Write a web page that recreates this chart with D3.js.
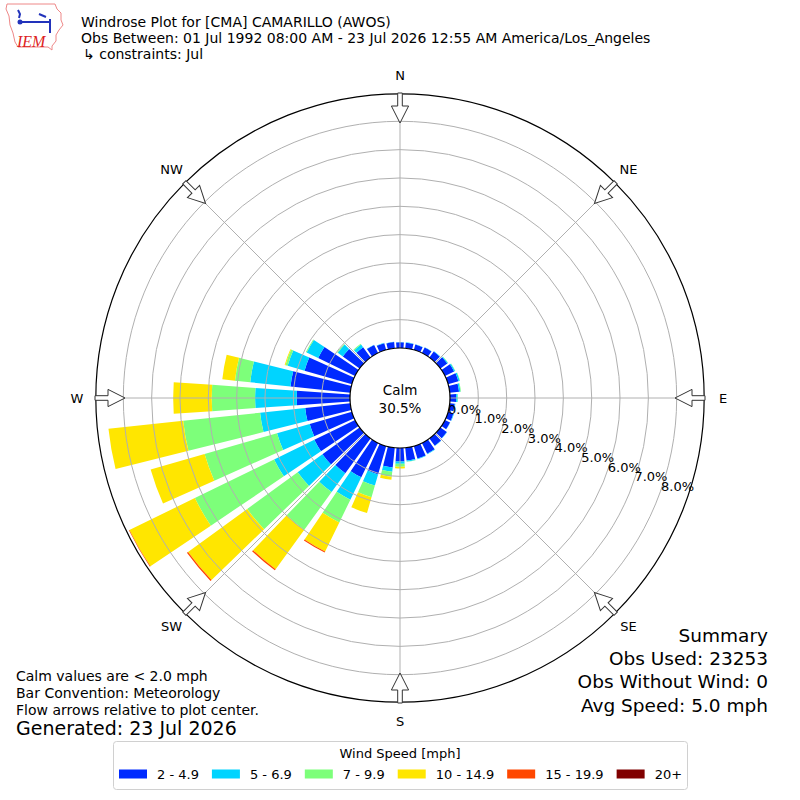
<!DOCTYPE html>
<html>
<head>
<meta charset="utf-8">
<script src="https://cdn.jsdelivr.net/npm/d3@7"></script>
<style>
  body { margin: 0; background: #fff; }
  svg { display: block; font-family: "DejaVu Sans", sans-serif; }
</style>
</head>
<body>
<svg id="windrose" width="800" height="800"></svg>
<script>
// direction bins (degrees, meteorological "from")
const bearings = [0, 10, 20, 30, 40, 50, 60, 70, 80, 90, 100, 110, 120, 130, 140, 150, 160, 170,
                  180, 190, 200, 210, 220, 230, 240, 250, 260, 270, 280, 290, 300, 310, 320, 330, 340, 350];

const speedBins = ["2 - 4.9", "5 - 6.9", "7 - 9.9", "10 - 14.9", "15 - 19.9", "20+"];

// frequency [%] for each speed bin by direction
const spd2 = [0.20, 0.20, 0.20, 0.22, 0.26, 0.30, 0.36, 0.38, 0.33, 0.22, 0.18, 0.20, 0.20, 0.28, 0.32, 0.42, 0.46, 0.45,
              0.48, 0.70, 1.04, 1.35, 1.52, 1.62, 1.60, 1.55, 1.60, 1.88, 2.12, 1.74, 1.45, 0.73, 0.45, 0.32, 0.25, 0.22];
const spd5 = [0.01, 0.01, 0.01, 0.01, 0.02, 0.03, 0.04, 0.05, 0.05, 0.05, 0.02, 0.02, 0.01, 0.01, 0.01, 0.02, 0.02, 0.04,
              0.08, 0.15, 0.41, 0.88, 0.82, 1.08, 1.58, 1.20, 1.60, 1.47, 1.43, 0.62, 0.45, 0.22, 0.12, 0.01, 0.01, 0.01];
const spd7 = [0, 0, 0, 0, 0, 0.01, 0.01, 0.01, 0.02, 0.01, 0, 0, 0, 0, 0, 0, 0, 0.01,
              0.10, 0.18, 0.43, 0.89, 1.65, 2.20, 3.11, 2.66, 2.73, 1.53, 0.54, 0.08, 0.03, 0.03, 0.03, 0, 0, 0];
const spd10 = [0, 0, 0, 0, 0, 0, 0, 0, 0, 0, 0, 0, 0, 0, 0, 0, 0, 0,
               0.06, 0.11, 0.58, 1.14, 1.71, 2.58, 2.57, 1.98, 2.65, 1.36, 0.45, 0.03, 0, 0, 0, 0, 0, 0];
const spd15 = [0, 0, 0, 0, 0, 0, 0, 0, 0, 0, 0, 0, 0, 0, 0, 0, 0, 0,
               0, 0, 0, 0.04, 0.05, 0.05, 0.02, 0, 0, 0, 0, 0, 0, 0, 0, 0, 0, 0];
const spd20 = [0, 0, 0, 0, 0, 0, 0, 0, 0, 0, 0, 0, 0, 0, 0, 0, 0, 0,
               0, 0, 0, 0, 0, 0, 0, 0, 0, 0, 0, 0, 0, 0, 0, 0, 0, 0];

const ringTicks = [0, 1, 2, 3, 4, 5, 6, 7, 8];
const rMaxPct = 8.97;
const calmPct = 30.5;

const compass = ["N", "NE", "E", "SE", "S", "SW", "W", "NW"];
const compassBearings = [0, 45, 90, 135, 180, 225, 270, 315];

const titleLines = [
    "Windrose Plot for [CMA] CAMARILLO (AWOS)",
    "Obs Between: 01 Jul 1992 08:00 AM - 23 Jul 2026 12:55 AM America/Los_Angeles",
    "\u21B3 constraints: Jul"
];
const noteLines = ["Calm values are < 2.0 mph", "Bar Convention: Meteorology", "Flow arrows relative to plot center."];
const generated = "Generated: 23 Jul 2026";
const summaryLines = ["Summary", "Obs Used: 23253", "Obs Without Wind: 0", "Avg Speed: 5.0 mph"];

const binColors = ["#002aff", "#00d4ff", "#7dff7a", "#ffe600", "#ff4700", "#800000"];

const svg = d3.select("#windrose");
const cx = 400, cy = 398;
const rad = deg => deg * Math.PI / 180;

// radial scale: 0% sits on the calm circle
const r = d3.scaleLinear().domain([0, 8]).range([50, 276.7]);

const series = [spd2, spd5, spd7, spd10, spd15, spd20];
const rows = bearings.map((b, i) => {
    const row = { bearing: b };
    speedBins.forEach((k, j) => row[k] = series[j][i]);
    return row;
});
const stacked = d3.stack().keys(speedBins)(rows);

const plot = svg.append("g").attr("transform", `translate(${cx},${cy})`);

const arc = d3.arc()
    .innerRadius(d => r(d[0]))
    .outerRadius(d => r(d[1]))
    .startAngle(d => rad(d.data.bearing - 4))
    .endAngle(d => rad(d.data.bearing + 4));

plot.selectAll("g.layer")
    .data(stacked)
    .enter().append("g")
    .attr("class", "layer")
    .attr("fill", (d, i) => binColors[i])
    .selectAll("path")
    .data(d => d.filter(s => s[1] - s[0] > 0))
    .enter().append("path")
    .attr("d", arc);

// grid rings and spokes on top of the bars
plot.selectAll("circle.ring")
    .data(ringTicks.slice(1))
    .enter().append("circle")
    .attr("class", "ring")
    .attr("r", d => r(d))
    .attr("fill", "none")
    .attr("stroke", "#b0b0b0")
    .attr("stroke-width", 1);

plot.selectAll("line.spoke")
    .data(compassBearings)
    .enter().append("line")
    .attr("x1", 0).attr("y1", 0)
    .attr("x2", d => r(rMaxPct) * Math.sin(rad(d)))
    .attr("y2", d => -r(rMaxPct) * Math.cos(rad(d)))
    .attr("stroke", "#b0b0b0")
    .attr("stroke-width", 1);

plot.append("circle")
    .attr("r", r(rMaxPct))
    .attr("fill", "none")
    .attr("stroke", "#000")
    .attr("stroke-width", 1.2);

// calm circle
plot.append("circle")
    .attr("r", r(0))
    .attr("fill", "#fff")
    .attr("stroke", "#000")
    .attr("stroke-width", 1.2);

plot.append("text")
    .attr("text-anchor", "middle")
    .attr("y", -3)
    .attr("font-size", 13.5)
    .text("Calm");
plot.append("text")
    .attr("text-anchor", "middle")
    .attr("y", 15)
    .attr("font-size", 13.5)
    .text(`${calmPct.toFixed(1)}%`);

// flow arrows, all pointing toward the center
const arrowPts = [[-2.3, -305], [2.3, -305], [2.3, -292], [8.6, -292], [0, -275], [-8.6, -292], [-2.3, -292]];
plot.selectAll("polygon.arrow")
    .data(compassBearings)
    .enter().append("polygon")
    .attr("class", "arrow")
    .attr("points", arrowPts.map(p => p.join(",")).join(" "))
    .attr("transform", d => `rotate(${d})`)
    .attr("fill", "#fff")
    .attr("stroke", "#333")
    .attr("stroke-width", 1);

plot.selectAll("text.compass")
    .data(compass)
    .enter().append("text")
    .attr("class", "compass")
    .attr("x", (d, i) => 323 * Math.sin(rad(compassBearings[i])))
    .attr("y", (d, i) => -323 * Math.cos(rad(compassBearings[i])))
    .attr("text-anchor", "middle")
    .attr("dominant-baseline", "central")
    .attr("font-size", 13)
    .text(d => d);

// ring labels along bearing 110
const fmt = d3.format(".1f");
plot.selectAll("text.rlabel")
    .data(ringTicks)
    .enter().append("text")
    .attr("class", "rlabel")
    .attr("x", d => r(d) * Math.sin(rad(110)) + 1)
    .attr("y", d => -r(d) * Math.cos(rad(110)) - 1.5)
    .attr("font-size", 13)
    .text(d => `${fmt(d)}%`);

// header
svg.selectAll("text.title")
    .data(titleLines)
    .enter().append("text")
    .attr("class", "title")
    .attr("x", (d, i) => i === 2 ? 83 : 81)
    .attr("y", (d, i) => 26.5 + i * 16)
    .attr("font-size", 14)
    .text(d => d);

// IEM logo (rough)
const logo = svg.append("g");
logo.append("path")
    .attr("d", "M7,4 L55,4 L57,9 L61,13 L61,20 L63,25 L59,30 L56,35 L56,41 L52,46 L52,50 L48,47 L18,47 L15,42 L13,33 L10,25 L9,16 L6,9 Z")
    .attr("fill", "none")
    .attr("stroke", "#ee8888")
    .attr("stroke-width", 1);
logo.append("path")
    .attr("d", "M18,10 L20,14 L19,18 M20,22 L50,22 M50,19 L50,33 M39,14 L46,17")
    .attr("fill", "none")
    .attr("stroke", "#2233bb")
    .attr("stroke-width", 2);
logo.append("circle").attr("cx", 20).attr("cy", 22).attr("r", 2.5).attr("fill", "#2233bb");
logo.append("text")
    .attr("x", 17).attr("y", 47)
    .attr("font-family", "Liberation Serif, serif")
    .attr("font-style", "italic")
    .attr("font-size", 16)
    .attr("fill", "#dd2222")
    .text("IEM");

// notes bottom left
svg.selectAll("text.note")
    .data(noteLines)
    .enter().append("text")
    .attr("class", "note")
    .attr("x", 16)
    .attr("y", (d, i) => 681 + i * 17)
    .attr("font-size", 14)
    .text(d => d);
svg.append("text")
    .attr("x", 16).attr("y", 735)
    .attr("font-size", 19)
    .text(generated);

// summary bottom right
svg.selectAll("text.summary")
    .data(summaryLines)
    .enter().append("text")
    .attr("class", "summary")
    .attr("x", 768)
    .attr("y", (d, i) => 641.7 + i * 23.3)
    .attr("text-anchor", "end")
    .attr("font-size", 18.5)
    .text(d => d);

// legend
const legend = svg.append("g");
legend.append("rect")
    .attr("x", 113.5).attr("y", 741.5)
    .attr("width", 574).attr("height", 48)
    .attr("rx", 3)
    .attr("fill", "#fff")
    .attr("stroke", "#d0d0d0");
legend.append("text")
    .attr("x", 400).attr("y", 758)
    .attr("text-anchor", "middle")
    .attr("font-size", 13)
    .text("Wind Speed [mph]");

let lx = 119;
speedBins.forEach((label, i) => {
    legend.append("rect")
        .attr("x", lx).attr("y", 769.5)
        .attr("width", 28).attr("height", 9)
        .attr("fill", binColors[i]);
    const t = legend.append("text")
        .attr("x", lx + 38).attr("y", 778.7)
        .attr("font-size", 13)
        .text(label);
    lx += 38 + t.node().getComputedTextLength() + 13;
});
</script>
</body>
</html>
